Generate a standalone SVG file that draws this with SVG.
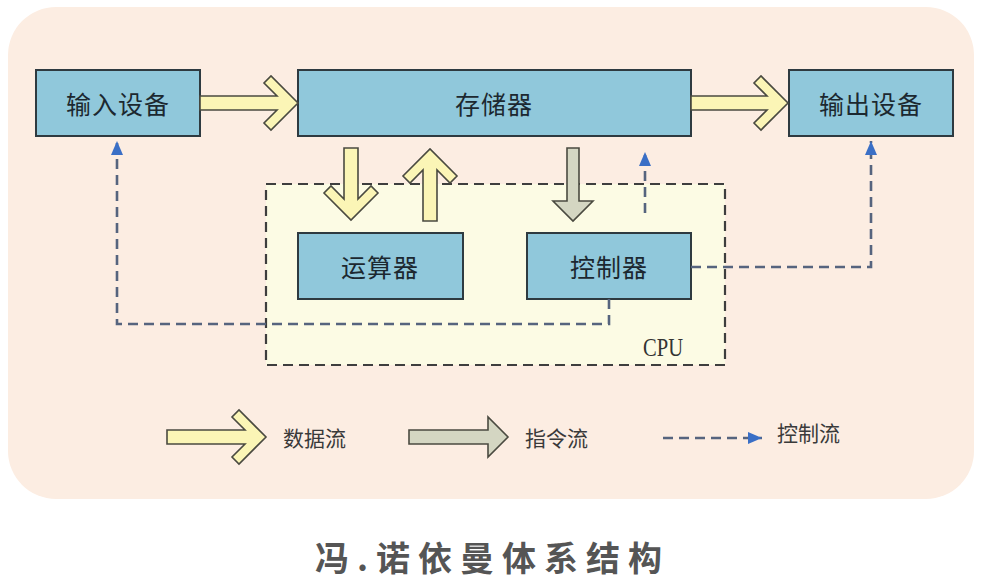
<svg xmlns="http://www.w3.org/2000/svg" width="983" height="581" viewBox="0 0 983 581">
<defs>
<style>
.box{fill:#90c8db;stroke:#2e3a40;stroke-width:2}
.lbl{font-family:"Noto Sans CJK SC","Noto Sans",sans-serif;font-size:25px;fill:#1c2830;text-anchor:middle;dominant-baseline:central;letter-spacing:1px}
.leg{font-family:"Noto Sans CJK SC","Noto Sans",sans-serif;font-size:21px;fill:#3a3a3a;dominant-baseline:central}
.data{fill:#fbf5b6;stroke:#4a4a40;stroke-width:1.6;stroke-linejoin:miter}
.instr{fill:#d4d6c2;stroke:#4a4a40;stroke-width:1.6}
.ctrl{fill:none;stroke:#56647e;stroke-width:2.6;stroke-dasharray:10 6}
</style>
<marker id="ah" viewBox="0 0 14 12" refX="14" refY="6" markerWidth="14" markerHeight="12" markerUnits="userSpaceOnUse" orient="auto">
<path d="M0 0 L14 6 L0 12 Z" fill="#3a6fc6"/>
</marker>
</defs>
<rect x="0" y="0" width="983" height="581" fill="#ffffff"/>
<rect x="8" y="7" width="966" height="492" rx="48" ry="48" fill="#fcede2"/>
<g id="cpu">
<rect x="266" y="184" width="459" height="181" fill="#fcfbe4" stroke="#3e3e3e" stroke-width="2.2" stroke-dasharray="10 6"/>
<text x="663" y="356" font-family="Liberation Serif,serif" font-size="25" fill="#333" text-anchor="middle" textLength="40" lengthAdjust="spacingAndGlyphs">CPU</text>
</g>
<g id="input">
<rect class="box" x="36" y="70" width="164" height="66"/>
<text class="lbl" x="118" y="103">输入设备</text>
</g>
<g id="memory">
<rect class="box" x="298" y="70" width="393" height="66"/>
<text class="lbl" x="494" y="103">存储器</text>
</g>
<g id="output">
<rect class="box" x="789" y="70" width="164" height="66"/>
<text class="lbl" x="871" y="103">输出设备</text>
</g>
<g id="alu">
<rect class="box" x="298" y="233" width="165" height="66"/>
<text class="lbl" x="380" y="266">运算器</text>
</g>
<g id="controller">
<rect class="box" x="527" y="233" width="164" height="66"/>
<text class="lbl" x="609" y="266">控制器</text>
</g>
<g id="connectors">
<path class="data" transform="translate(298,103)" d="M-98 -7 L-21 -7 L-34 -20 L-27 -27 L0 0 L-27 27 L-34 20 L-21 7 L-98 7 Z"/>
<path class="data" transform="translate(788,103)" d="M-97 -7 L-21 -7 L-34 -20 L-27 -27 L0 0 L-27 27 L-34 20 L-21 7 L-97 7 Z"/>
<path class="data" transform="translate(351,220) rotate(90)" d="M-72 -7 L-21 -7 L-34 -20 L-27 -27 L0 0 L-27 27 L-34 20 L-21 7 L-72 7 Z"/>
<path class="data" transform="translate(430,149) rotate(-90)" d="M-72 -7 L-21 -7 L-34 -20 L-27 -27 L0 0 L-27 27 L-34 20 L-21 7 L-72 7 Z"/>
<path class="instr" transform="translate(573,221) rotate(90)" d="M-73 -6 L-20 -6 L-20 -20 L0 0 L-20 20 L-20 6 L-73 6 Z"/>
<path class="ctrl" d="M609 299 V324 H117 V141" marker-end="url(#ah)"/>
<path class="ctrl" d="M691 267 H871 V141" marker-end="url(#ah)"/>
<path class="ctrl" d="M645 213 V152" marker-end="url(#ah)"/>
</g>
<g id="legend">
<path class="data" transform="translate(266,437)" d="M-99 -7 L-21 -7 L-34 -20 L-27 -27 L0 0 L-27 27 L-34 20 L-21 7 L-99 7 Z"/>
<text class="leg" x="283" y="437">数据流</text>
<path class="instr" transform="translate(508,437)" d="M-99 -7 L-20 -7 L-20 -20 L0 0 L-20 20 L-20 7 L-99 7 Z"/>
<text class="leg" x="525" y="437">指令流</text>
<path class="ctrl" d="M663 438 H762" marker-end="url(#ah)"/>
<text class="leg" x="777" y="432">控制流</text>
</g>
<text id="title" x="315" y="556" font-family="Noto Sans CJK SC,sans-serif" font-weight="bold" font-size="34" fill="#555555" dominant-baseline="central" textLength="347" lengthAdjust="spacing">冯.诺依曼体系结构</text>
</svg>
